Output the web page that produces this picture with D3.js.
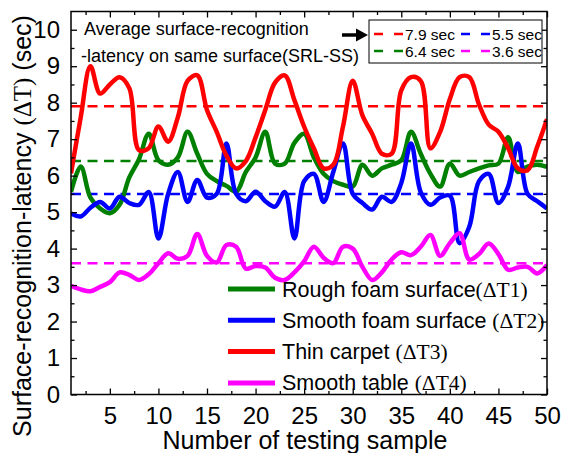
<!DOCTYPE html>
<html>
<head>
<meta charset="utf-8">
<script src="https://cdn.jsdelivr.net/npm/d3@7"></script>
<style>
  body { margin: 0; background: #fff; }
  text { font-family: "Liberation Sans", Arial, sans-serif; }
</style>
</head>
<body>
<div id="chart"></div>
<script>
// Sample numbers (x categories)
var samples = d3.range(1, 51)

// Surface-recognition latency per sample (sec)
var roughFoam = [5.55, 6.25, 5.4, 5.1, 4.97, 5.2, 5.95, 6.45, 7.15, 6.42,
  6.3, 6.5, 7.2, 6.6, 6.05, 5.85, 5.72, 5.56, 6.1, 6.5,
  7.2, 6.33, 6.33, 6.9, 7.15, 6.5, 6.05, 5.85, 5.75, 5.7,
  6.3, 6.0, 6.2, 6.3, 6.42, 7.2, 6.6, 6.05, 5.7, 6.33,
  6.0, 6.1, 6.2, 6.28, 6.33, 7.05, 6.1, 6.25, 6.3, 6.24]
var smoothFoam = [4.96, 4.88, 5.12, 5.28, 5.1, 5.42, 5.25, 5.2, 5.55, 4.28,
  5.5, 6.1, 5.28, 5.88, 5.4, 5.5, 6.88, 5.5, 5.3, 5.56,
  5.3, 5.15, 5.55, 4.28, 5.85, 6.05, 5.28, 6.1, 6.88, 5.5,
  5.25, 5.07, 5.42, 5.28, 5.8, 6.88, 5.55, 5.2, 5.4, 5.45,
  4.15, 4.6, 5.85, 6.05, 5.25, 5.7, 6.88, 5.5, 5.3, 5.1]
var thinCarpet = [6.06, 7.6, 9.0, 8.25, 8.5, 8.7, 8.4, 6.7, 6.75, 7.35,
  6.93, 7.6, 8.6, 8.75, 7.8, 7.2, 6.55, 6.2, 6.4, 7.05,
  7.8, 8.55, 8.75, 8.07, 7.34, 6.75, 6.2, 6.3, 7.35, 8.6,
  7.65, 7.15, 6.6, 6.6, 8.34, 8.7, 8.6, 6.75, 7.2, 8.1,
  8.7, 8.7, 7.95, 7.4, 7.2, 6.75, 6.2, 6.15, 6.8, 7.55]
var smoothTable = [2.98, 2.88, 2.83, 2.95, 3.08, 3.35, 3.28, 3.14, 3.3, 3.6,
  3.87, 3.72, 3.8, 4.4, 3.8, 3.62, 4.1, 4.05, 3.45, 3.52,
  3.48, 3.2, 3.14, 3.35, 3.65, 4.05, 3.75, 3.6, 4.05, 4.0,
  3.5, 3.14, 3.35, 3.7, 3.9, 3.82, 4.05, 4.37, 3.8, 4.15,
  4.42, 3.7, 3.85, 4.14, 3.85, 3.42, 3.48, 3.5, 3.32, 3.55]

// Series names and colours (legend order)
var seriesNames = ["Rough foam surface", "Smooth foam surface ", "Thin carpet ", "Smooth table "]
var seriesTags = ["(\u0394T1)", "(\u0394T2)", "(\u0394T3)", "(\u0394T4)"]
var seriesColors = ["#008000", "#0000ff", "#ff0000", "#ff00ff"]

// Averages (SRL-SS), in legend order
var avgValues = [7.9, 5.5, 6.4, 3.6]
var avgColors = ["#ff0000", "#0000ff", "#008000", "#ff00ff"]
var avgLabels = ["7.9 sec", "5.5 sec", "6.4 sec", "3.6 sec"]

// Axis ticks
var xTicks = [5, 10, 15, 20, 25, 30, 35, 40, 45, 50]
var yTicks = [0, 1, 2, 3, 4, 5, 6, 7, 8, 9, 10]

var width = 562, height = 453
var plotLeft = 71, plotRight = 547, plotTop = 11.5, plotBottom = 394.5

var svg = d3.select("#chart").append("svg")
  .attr("width", width)
  .attr("height", height)

var x = d3.scaleLinear().domain([1, 50]).range([plotLeft, plotRight])
var y = d3.scaleLinear().domain([0, 10.5]).range([plotBottom, plotTop])

// clip for curves
svg.append("clipPath").attr("id", "clip")
  .append("rect")
  .attr("x", plotLeft).attr("y", plotTop)
  .attr("width", plotRight - plotLeft).attr("height", plotBottom - plotTop)

// Average dashed lines
svg.selectAll(".avg")
  .data(avgValues)
  .enter()
  .append("line")
  .attr("x1", x(1)).attr("x2", x(50))
  .attr("y1", function(d) { return y(d) })
  .attr("y2", function(d) { return y(d) })
  .attr("stroke", function(d, i) { return avgColors[i] })
  .attr("stroke-width", 2.5)
  .attr("stroke-dasharray", "10,6.5")

// Curves
var allSeries = [roughFoam, smoothFoam, thinCarpet, smoothTable]
var line = d3.line()
  .x(function(d, i) { return x(samples[i]) })
  .y(function(d) { return y(d) })
  .curve(d3.curveCatmullRom.alpha(0.5))

svg.append("g").attr("clip-path", "url(#clip)")
  .selectAll("path")
  .data(allSeries)
  .enter()
  .append("path")
  .attr("d", line)
  .attr("fill", "none")
  .attr("stroke", function(d, i) { return seriesColors[i] })
  .attr("stroke-width", 4.5)
  .attr("stroke-linejoin", "round")

// Axes (ticks point inward)
function styleAxis(g) {
  g.select(".domain").remove()
  g.selectAll("line").attr("stroke", "#000").attr("stroke-width", 1.3)
  g.selectAll("text").attr("fill", "#000")
    .style("font-family", "'Liberation Sans', Arial, sans-serif")
}

var xMinor = d3.range(2.5, 50, 5)
var yMinor = d3.range(0.5, 10, 1)

svg.append("g")
  .attr("transform", "translate(0," + plotBottom + ")")
  .call(d3.axisBottom(x).tickValues(xTicks).tickSize(-6).tickSizeOuter(0).tickPadding(12))
  .call(styleAxis)
  .selectAll("text").style("font-size", "24px")
svg.append("g")
  .attr("transform", "translate(0," + plotBottom + ")")
  .call(d3.axisBottom(x).tickValues(xMinor).tickSize(-3.5).tickSizeOuter(0).tickFormat(""))
  .call(styleAxis)
svg.append("g")
  .attr("transform", "translate(0," + plotTop + ")")
  .call(d3.axisTop(x).tickValues(xTicks).tickSize(-6).tickSizeOuter(0).tickFormat(""))
  .call(styleAxis)
svg.append("g")
  .attr("transform", "translate(0," + plotTop + ")")
  .call(d3.axisTop(x).tickValues(xMinor).tickSize(-3.5).tickSizeOuter(0).tickFormat(""))
  .call(styleAxis)

svg.append("g")
  .attr("transform", "translate(" + plotLeft + ",0)")
  .call(d3.axisLeft(y).tickValues(yTicks).tickSize(-6).tickSizeOuter(0).tickPadding(11))
  .call(styleAxis)
  .selectAll("text").style("font-size", "24px")
svg.append("g")
  .attr("transform", "translate(" + plotLeft + ",0)")
  .call(d3.axisLeft(y).tickValues(yMinor).tickSize(-3.5).tickSizeOuter(0).tickFormat(""))
  .call(styleAxis)
svg.append("g")
  .attr("transform", "translate(" + plotRight + ",0)")
  .call(d3.axisRight(y).tickValues(yTicks).tickSize(-6).tickSizeOuter(0).tickFormat(""))
  .call(styleAxis)
svg.append("g")
  .attr("transform", "translate(" + plotRight + ",0)")
  .call(d3.axisRight(y).tickValues(yMinor).tickSize(-3.5).tickSizeOuter(0).tickFormat(""))
  .call(styleAxis)

// Frame
svg.append("rect")
  .attr("x", plotLeft).attr("y", plotTop)
  .attr("width", plotRight - plotLeft).attr("height", plotBottom - plotTop)
  .attr("fill", "none")
  .attr("stroke", "#000")
  .attr("stroke-width", 1.5)

// Axis titles
svg.append("text")
  .attr("x", 305).attr("y", 449)
  .attr("text-anchor", "middle")
  .style("font-size", "25px")
  .text("Number of testing sample")

var yTitle = svg.append("text")
  .attr("transform", "translate(31,226) rotate(-90)")
  .attr("text-anchor", "middle")
  .style("font-size", "25px")
yTitle.append("tspan").text("Surface-recognition-latency ")
yTitle.append("tspan").style("font-family", "'Liberation Serif', serif").text("(\u0394T)")
yTitle.append("tspan").text(" (sec)")

// Annotation + arrow
svg.append("text").attr("x", 84).attr("y", 35)
  .style("font-size", "18px").text("Average surface-recognition")
svg.append("text").attr("x", 81).attr("y", 62)
  .style("font-size", "18px").text("-latency on same surface(SRL-SS)")
svg.append("line")
  .attr("x1", 342).attr("x2", 358).attr("y1", 35).attr("y2", 35)
  .attr("stroke", "#000").attr("stroke-width", 3.5)
svg.append("path")
  .attr("d", "M356,28.5 L368,35 L356,41.5 Z")
  .attr("fill", "#000")

// Average legend box
svg.append("rect")
  .attr("x", 369).attr("y", 20)
  .attr("width", 173).attr("height", 43)
  .attr("fill", "#fff")
  .attr("stroke", "#000")
  .attr("stroke-width", 1)

var avgLegend = svg.selectAll(".avgLeg")
  .data(avgLabels)
  .enter()
  .append("g")
  .attr("transform", function(d, i) {
    return "translate(" + (i % 2 === 0 ? 374 : 461) + "," + (i < 2 ? 34 : 51) + ")"
  })
avgLegend.append("line")
  .attr("x1", 0).attr("x2", 29).attr("y1", 0).attr("y2", 0)
  .attr("stroke", function(d, i) { return avgColors[i] })
  .attr("stroke-width", 2.5)
  .attr("stroke-dasharray", "9,11")
avgLegend.append("text")
  .attr("x", 31).attr("y", 5.5)
  .style("font-size", "15.5px")
  .text(function(d) { return d })

// Series legend
var legend = svg.selectAll(".leg")
  .data(seriesNames)
  .enter()
  .append("g")
  .attr("transform", function(d, i) { return "translate(228," + (289 + i * 31.3) + ")" })
legend.append("line")
  .attr("x1", 0).attr("x2", 47).attr("y1", 0).attr("y2", 0)
  .attr("stroke", function(d, i) { return seriesColors[i] })
  .attr("stroke-width", 5)
var legText = legend.append("text")
  .attr("x", 54).attr("y", 7.5)
  .style("font-size", "21.5px")
legText.append("tspan").text(function(d) { return d })
legText.append("tspan")
  .style("font-family", "'Liberation Serif', serif")
  .text(function(d, i) { return seriesTags[i] })
</script>
</body>
</html>
